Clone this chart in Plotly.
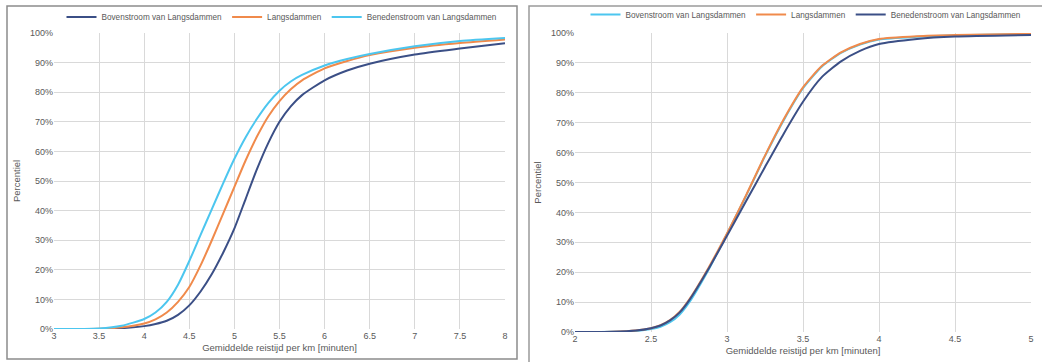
import plotly.graph_objects as go

# left panel: x in minutes per km, y as fraction
x_left = [3, 3.5, 3.75, 4, 4.125, 4.25, 4.375, 4.5, 4.625, 4.75, 4.875, 5, 5.125, 5.25, 5.375, 5.5, 5.625, 5.75, 6, 6.25, 6.5, 7, 7.5, 8]
boven_left = [0, 0, 0.003, 0.010, 0.017, 0.028, 0.048, 0.080, 0.127, 0.186, 0.258, 0.340, 0.440, 0.540, 0.628, 0.700, 0.752, 0.790, 0.840, 0.873, 0.896, 0.927, 0.947, 0.965]
langs_left = [0, 0.001, 0.006, 0.019, 0.033, 0.056, 0.092, 0.142, 0.215, 0.300, 0.390, 0.480, 0.570, 0.650, 0.718, 0.770, 0.810, 0.840, 0.880, 0.905, 0.925, 0.950, 0.966, 0.978]
beneden_left = [0, 0.002, 0.011, 0.034, 0.056, 0.092, 0.150, 0.230, 0.318, 0.405, 0.492, 0.575, 0.648, 0.710, 0.763, 0.805, 0.836, 0.858, 0.890, 0.912, 0.929, 0.955, 0.973, 0.983]

# right panel
x_right = [2, 2.25, 2.4, 2.5, 2.5625, 2.625, 2.6875, 2.75, 2.875, 3, 3.125, 3.25, 3.375, 3.5, 3.625, 3.75, 3.875, 4, 4.25, 4.5, 5]
boven_right = [0, 0.001, 0.004, 0.010, 0.018, 0.033, 0.058, 0.098, 0.205, 0.328, 0.455, 0.588, 0.710, 0.815, 0.888, 0.933, 0.961, 0.978, 0.987, 0.992, 0.996]
langs_right = [0, 0.001, 0.005, 0.013, 0.023, 0.040, 0.067, 0.108, 0.212, 0.330, 0.457, 0.590, 0.713, 0.818, 0.890, 0.935, 0.963, 0.980, 0.989, 0.993, 0.997]
beneden_right = [0, 0.001, 0.005, 0.013, 0.022, 0.039, 0.065, 0.105, 0.208, 0.322, 0.437, 0.552, 0.665, 0.770, 0.853, 0.905, 0.940, 0.963, 0.980, 0.988, 0.993]

names = ["Bovenstroom van Langsdammen", "Langsdammen", "Benedenstroom van Langsdammen"]

NAVY = "#3b4f86"
ORANGE = "#f08a4b"
CYAN = "#4cc6ef"

W, H = 1042, 362


def px_x(p):
    return p / W


def px_y(p):
    return 1 - p / H


fig = go.Figure()

for name, y, col in zip(names, [boven_left, langs_left, beneden_left], [NAVY, ORANGE, CYAN]):
    fig.add_scatter(x=x_left, y=y, name=name, mode="lines", line=dict(color=col, width=2, shape="spline", smoothing=0.6),
                    xaxis="x", yaxis="y", legend="legend")

# right panel: cyan first, then orange, navy on top
for name, y, col in zip(names, [boven_right, langs_right, beneden_right], [CYAN, ORANGE, NAVY]):
    fig.add_scatter(x=x_right, y=y, name=name, mode="lines", line=dict(color=col, width=2, shape="spline", smoothing=0.6),
                    xaxis="x2", yaxis="y2", legend="legend2")

FONT = "Liberation Sans, Arial"
tickfont = dict(family=FONT, size=9, color="#595959")
titlefont = dict(family=FONT, size=9.5, color="#595959")
legfont = dict(family=FONT, size=8.2, color="#595959")
grid = "#d9d9d9"

axis_common = dict(showgrid=True, gridcolor=grid, gridwidth=1, zeroline=False, showline=False, ticks="",
                   tickfont=tickfont, fixedrange=True, automargin=False)

fig.update_layout(
    width=W, height=H,
    margin=dict(l=0, r=0, t=0, b=0),
    paper_bgcolor="white", plot_bgcolor="white",
    xaxis=dict(domain=[px_x(54), px_x(505)], range=[3, 8], dtick=0.5, anchor="y",
               title=dict(text="Gemiddelde reistijd per km [minuten]", font=titlefont, standoff=4), **axis_common),
    yaxis=dict(domain=[px_y(329), px_y(32)], range=[0, 1], dtick=0.1, tickformat=".0%", anchor="x",
               title=dict(text="Percentiel", font=titlefont, standoff=7), **axis_common),
    xaxis2=dict(domain=[px_x(575), px_x(1031)], range=[2, 5], dtick=0.5, anchor="y2",
                title=dict(text="Gemiddelde reistijd per km [minuten]", font=titlefont, standoff=4), **axis_common),
    yaxis2=dict(domain=[px_y(332), px_y(32)], range=[0, 1], dtick=0.1, tickformat=".0%", anchor="x2",
                title=dict(text="Percentiel", font=titlefont, standoff=7), **axis_common),
    legend=dict(orientation="h", x=px_x(282), xanchor="center", y=px_y(17), yanchor="middle",
                itemwidth=30, font=legfont, bgcolor="rgba(0,0,0,0)"),
    legend2=dict(orientation="h", x=px_x(806), xanchor="center", y=px_y(14), yanchor="middle",
                 itemwidth=30, font=legfont, bgcolor="rgba(0,0,0,0)"),
    shapes=[
        dict(type="rect", xref="paper", yref="paper", x0=px_x(7), x1=px_x(517), y0=px_y(359), y1=px_y(5),
             line=dict(color="#8c8c8c", width=1.5), layer="below"),
        dict(type="rect", xref="paper", yref="paper", x0=px_x(529), x1=px_x(1050), y0=px_y(370), y1=px_y(5),
             line=dict(color="#9a9a9a", width=1.5), layer="below"),
    ],
)

# page body has a default 8px margin; remove it so the figure sits at the window origin
fig.write_html("out.html", config={"displayModeBar": False},
               post_script="document.body.style.margin='0';")
